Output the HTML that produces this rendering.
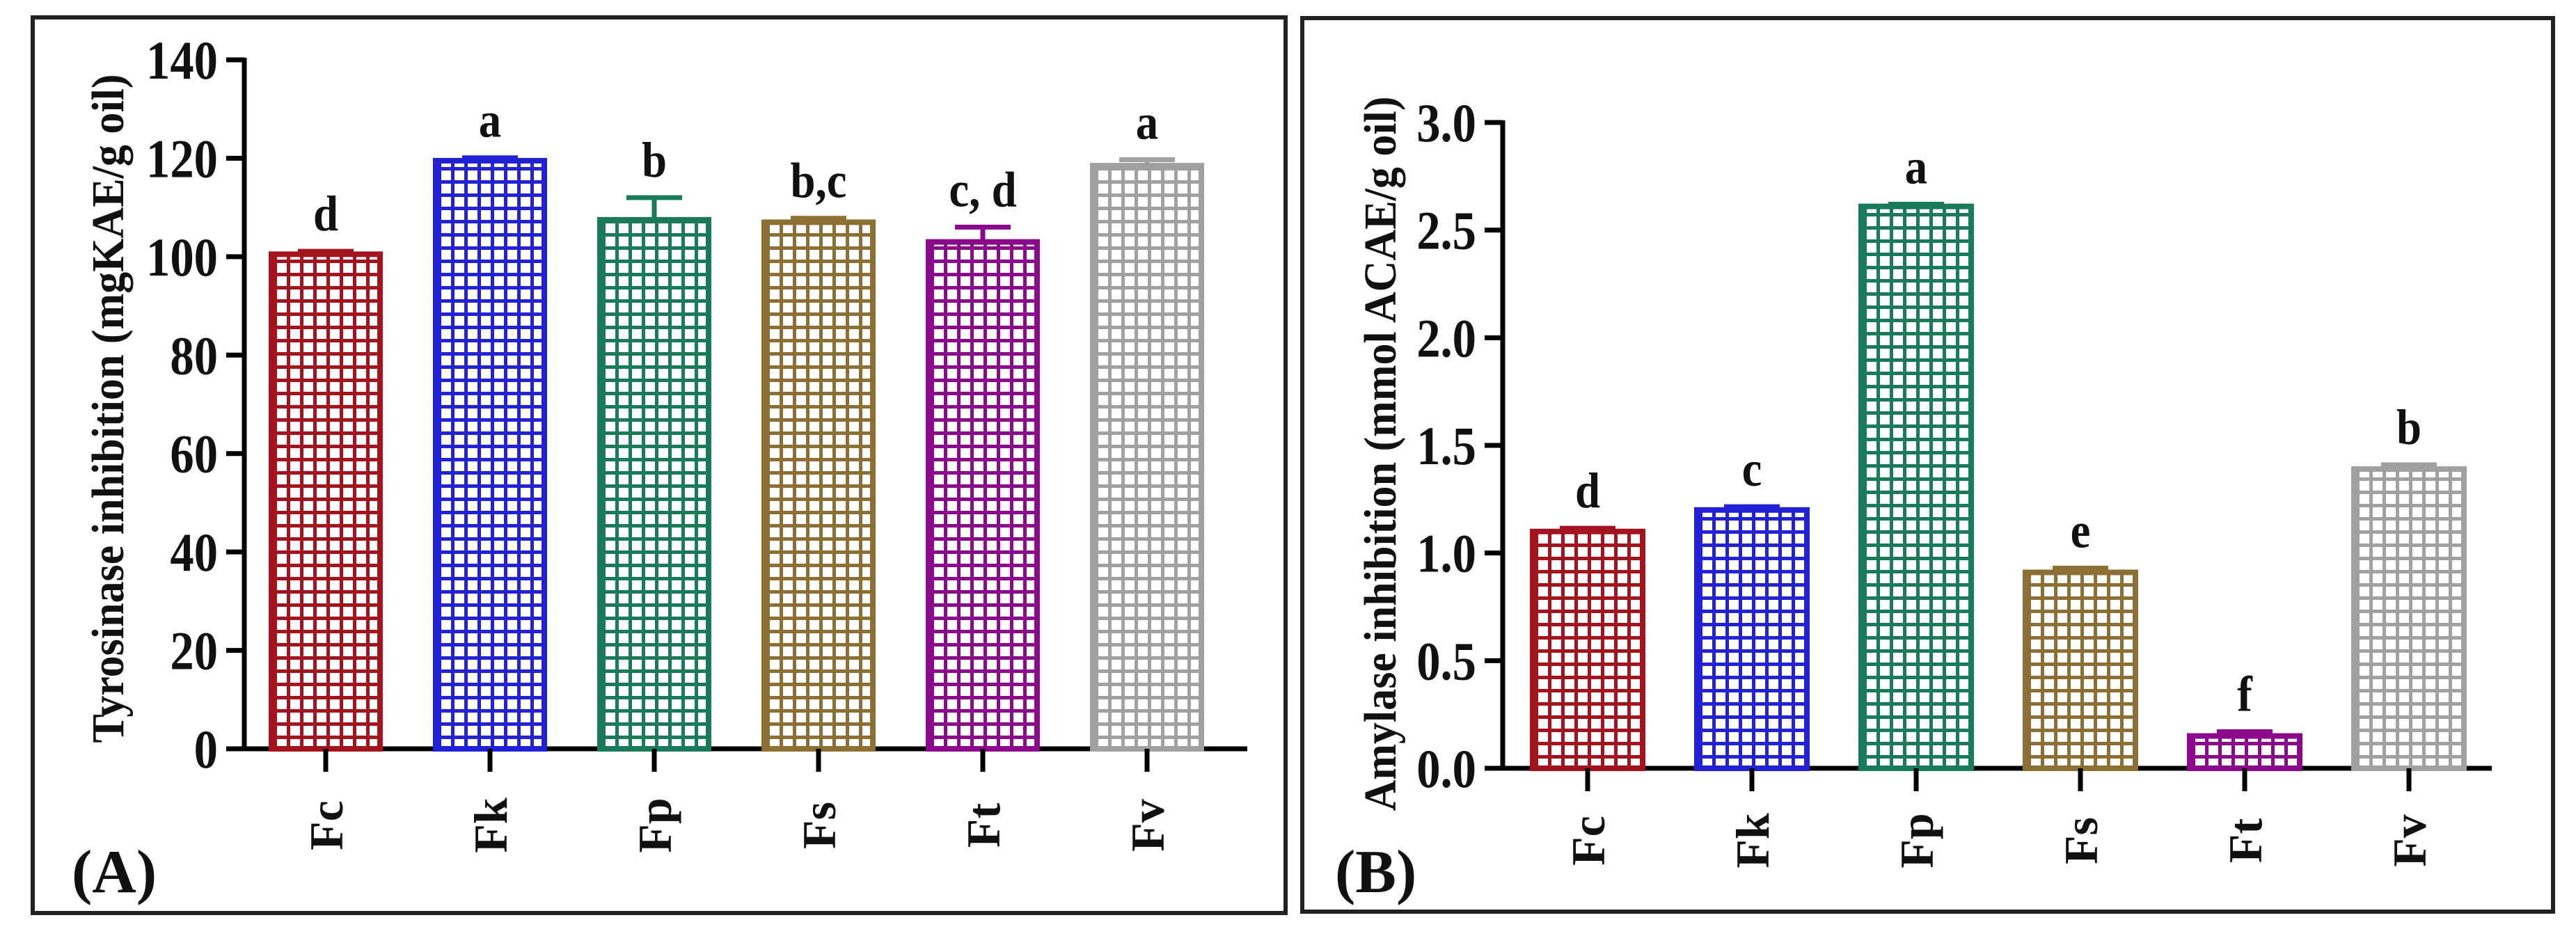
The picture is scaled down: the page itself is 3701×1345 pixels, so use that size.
<!DOCTYPE html>
<html><head><meta charset="utf-8">
<style>
html,body{margin:0;padding:0;background:#fff;}
svg{display:block;}
text{font-family:"Liberation Serif",serif;font-weight:bold;fill:#111;}
</style></head>
<body>
<svg id="chart" width="3701" height="1345" viewBox="0 0 3701 1345" xmlns="http://www.w3.org/2000/svg">
<defs id="defs"></defs>
<rect x="47" y="25" width="1800" height="1287" fill="none" stroke="#222" stroke-width="6"/>
<rect x="1871" y="26" width="1797" height="1284" fill="none" stroke="#222" stroke-width="6"/>
<g id="panelA"></g>
<g id="panelB"></g>
<text x="103" y="1282" font-size="88">(A)</text>
<text x="1918" y="1282" font-size="88">(B)</text>
</svg>
<script>
const categories = ["Fc","Fk","Fp","Fs","Ft","Fv"];
const colors = ["#a3141e","#2222d4","#1a7a5c","#8b6f35","#8b0a8b","#a0a0a0"];
const tyrValues = [100.5, 119.5, 107.5, 107, 103, 118.5];
const tyrErrors = [0.6, 0.6, 4.5, 0.8, 3, 1.2];
const tyrLetters = ["d","a","b","b,c","c,  d","a"];
const tyrTicks = [0,20,40,60,80,100,120,140];
const amyValues = [1.1, 1.2, 2.61, 0.91, 0.15, 1.39];
const amyErrors = [0.015, 0.015, 0.01, 0.02, 0.02, 0.02];
const amyLetters = ["d","c","a","e","f","b"];
const amyTicks = ["0.0","0.5","1.0","1.5","2.0","2.5","3.0"];

const NS = "http://www.w3.org/2000/svg";
const defs = document.getElementById("defs");
function mk(tag, attrs, parent){
  const e = document.createElementNS(NS, tag);
  for (const k in attrs) e.setAttribute(k, attrs[k]);
  parent.appendChild(e);
  return e;
}

function drawPanel(cfg){
  const g = document.getElementById(cfg.id);
  const yScale = v => cfg.y0 - (v - cfg.yMin) / (cfg.yMax - cfg.yMin) * (cfg.y0 - cfg.yTop);
  const xScale = i => cfg.x0c + i * cfg.pitch;
  const yAxis = mk("line", {x1: cfg.axisX, y1: yScale(cfg.yMax) - 3, x2: cfg.axisX, y2: cfg.y0 + 3, stroke: "#000", "stroke-width": 7}, g);
  
  
  const xAxis = mk("line", {x1: cfg.axisX - 26, y1: cfg.y0, x2: cfg.xEnd, y2: cfg.y0, stroke: "#000", "stroke-width": 7}, g);
  
  
  cfg.ticks.forEach(t => {
    const v = parseFloat(t);
    const y = yScale(v);
    const tk = mk("line", {x1: cfg.axisX - 26, y1: y, x2: cfg.axisX, y2: y, stroke: "#000", "stroke-width": 7}, g);
    
    
    const tl = mk("text", {x: 0, y: 0, "font-size": 78, "text-anchor": "end", transform: `translate(${cfg.axisX - 38},${y + 27}) scale(0.88,1)`}, g);
    tl.textContent = t;
    
    
  });
  const tt = mk("text", {x: 0, y: 0, "font-size": 66, "text-anchor": "middle", transform: `translate(${cfg.titleX},${cfg.titleY}) rotate(-90) scale(0.94,1)`}, g);
  tt.textContent = cfg.title;
  
  

  categories.forEach((c, i) => {
    const cx = xScale(i);
    const bw = cfg.barW;
    const x = cx - bw / 2;
    const top = yScale(cfg.values[i]);
    const pid = cfg.id + "-pat" + i;
    const p = mk("pattern", {id: pid, patternUnits: "userSpaceOnUse", width: 19, height: 19, x: x + 3, y: cfg.y0}, defs);
    mk("rect", {x: 0, y: 0, width: 19, height: 19, fill: "#fff"}, p);
    mk("rect", {x: 0, y: 0, width: 5, height: 19, fill: colors[i]}, p);
    mk("rect", {x: 0, y: 0, width: 19, height: 5, fill: colors[i]}, p);
    const bar = mk("rect", {x: x, y: top, width: bw, height: cfg.y0 - top, fill: `url(#${pid})`, stroke: colors[i], "stroke-width": 8}, g);
    
    
    const eTop = yScale(cfg.values[i] + cfg.errors[i]);
    const eb = mk("path", {d: `M${cx},${top} V${eTop} M${cx - 40},${eTop} H${cx + 40}`, stroke: colors[i], "stroke-width": 7, fill: "none"}, g);
    
    
    const lt = mk("text", {x: 0, y: 0, "font-size": 72, "text-anchor": "middle", transform: `translate(${cx},${Math.min(eTop, top) - 30}) scale(0.9,1)`}, g);
    lt.textContent = cfg.letters[i];
    
    
    const xt = mk("line", {x1: cx, y1: cfg.y0, x2: cx, y2: cfg.y0 + 33, stroke: "#000", "stroke-width": 7}, g);
    
    
    const xl = mk("text", {x: 0, y: 0, "font-size": 68, "text-anchor": "middle", transform: `translate(${cx + 24},${cfg.labelY}) rotate(-90)`}, g);
    xl.textContent = c;
    
    
  });
}

drawPanel({id: "panelA", axisX: 351, y0: 1076, yTop: 86, yMin: 0, yMax: 140, x0c: 468, pitch: 236, barW: 156, xEnd: 1792,
  ticks: tyrTicks.map(String), values: tyrValues, errors: tyrErrors, letters: tyrLetters,
  title: "Tyrosinase inhibition (mgKAE/g oil)", titleX: 177, titleY: 587, labelY: 1186});
drawPanel({id: "panelB", axisX: 2159, y0: 1104, yTop: 176, yMin: 0, yMax: 3, x0c: 2281, pitch: 236, barW: 158, xEnd: 3580,
  ticks: amyTicks, values: amyValues, errors: amyErrors, letters: amyLetters,
  title: "Amylase inhibition (mmol ACAE/g oil)", titleX: 2005, titleY: 652, labelY: 1208});
</script>
</body></html>
